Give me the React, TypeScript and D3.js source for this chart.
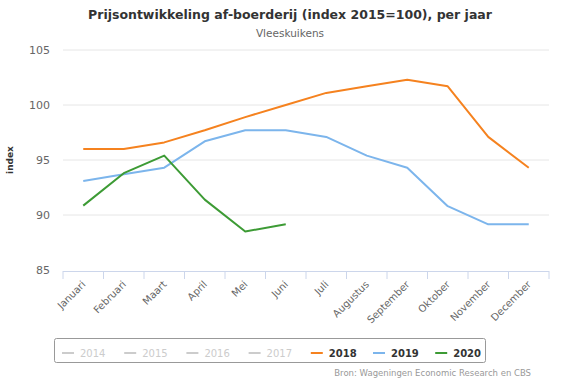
import React from "react";
import * as d3 from "d3";

const months = ["Januari","Februari","Maart","April","Mei","Juni","Juli","Augustus","September","Oktober","November","December"];
const s2018 = [96.0, 96.0, 96.6, 97.7, 98.9, 100.0, 101.1, 101.7, 102.3, 101.7, 97.1, 94.3];
const s2019 = [93.1, 93.7, 94.3, 96.7, 97.7, 97.7, 97.1, 95.4, 94.3, 90.8, 89.15, 89.15];
const s2020 = [90.85, 93.8, 95.4, 91.4, 88.5, 89.15];
const yTicks = [85, 90, 95, 100, 105];
const legendYears = ["2014","2015","2016","2017","2018","2019","2020"];
const legendColors = ["#cccccc","#cccccc","#cccccc","#cccccc","#f5821f","#7cb5ec","#3d9b35"];
const legendActive = [false,false,false,false,true,true,true];

const W = 572, H = 381;
const left = 63, right = 549, top = 50, bottom = 270;

export default function App() {
  const x = d3.scaleBand<string>().domain(months).range([left, right]);
  const y = d3.scaleLinear().domain([85, 105]).range([bottom, top]);
  const line = d3.line<number>().x((_, i) => (x(months[i]) as number) + x.bandwidth() / 2).y(d => y(d));
  const series = [
    { data: s2018, color: "#f5821f" },
    { data: s2019, color: "#7cb5ec" },
    { data: s2020, color: "#3d9b35" },
  ];
  const font = "Verdana, 'DejaVu Sans', sans-serif";
  const boundaries = months.map(m => x(m) as number).concat([right]);
  return (
    <svg width={W} height={H} style={{ position: "absolute", left: 0, top: 0, fontFamily: font }}>
      <rect width={W} height={H} fill="#fff" />
      <text x={290} y={19} textAnchor="middle" fontSize={12.5} fontWeight="bold" fill="#333">Prijsontwikkeling af-boerderij (index 2015=100), per jaar</text>
      <text x={290} y={37} textAnchor="middle" fontSize={10.5} fill="#666">Vleeskuikens</text>
      {yTicks.map(t => (
        <g key={t}>
          {t !== 85 && <line x1={left} x2={right} y1={y(t)} y2={y(t)} stroke="#e6e6e6" />}
          <text x={50} y={y(t) + 4} textAnchor="end" fontSize={11} fill="#666">{t}</text>
        </g>
      ))}
      <text transform={`translate(13,${(top + bottom) / 2}) rotate(-90)`} textAnchor="middle" fontSize={9} fontWeight="bold" fill="#333">index</text>
      <line x1={left} x2={right} y1={bottom + 1.5} y2={bottom + 1.5} stroke="#ccd6eb" />
      {boundaries.map((b, i) => (
        <line key={i} x1={b} x2={b} y1={bottom + 1} y2={bottom + 9} stroke="#ccd6eb" />
      ))}
      {months.map(m => {
        const cx = (x(m) as number) + x.bandwidth() / 2;
        return (
          <text key={m} transform={`translate(${cx + 3},${bottom + 15}) rotate(-45)`} textAnchor="end" fontSize={10} fill="#666">{m}</text>
        );
      })}
      {series.map((s, i) => (
        <path key={i} d={line(s.data) as string} fill="none" stroke={s.color} strokeWidth={2} strokeLinejoin="round" />
      ))}
      <rect x={54.5} y={338.5} width={431} height={24} rx={2} fill="none" stroke="#999" />
      {legendYears.map((yr, i) => {
        const lx = 62 + i * 62.2;
        return (
          <g key={yr}>
            <line x1={lx} x2={lx + 12} y1={353} y2={353} stroke={legendColors[i]} strokeWidth={2} />
            <text x={lx + 18} y={357} fontSize={10} fontWeight={legendActive[i] ? "bold" : "normal"} fill={legendActive[i] ? "#333" : "#cccccc"}>{yr}</text>
          </g>
        );
      })}
      <text x={531} y={376} textAnchor="end" fontSize={8.5} fill="#999">Bron: Wageningen Economic Research en CBS</text>
    </svg>
  );
}
